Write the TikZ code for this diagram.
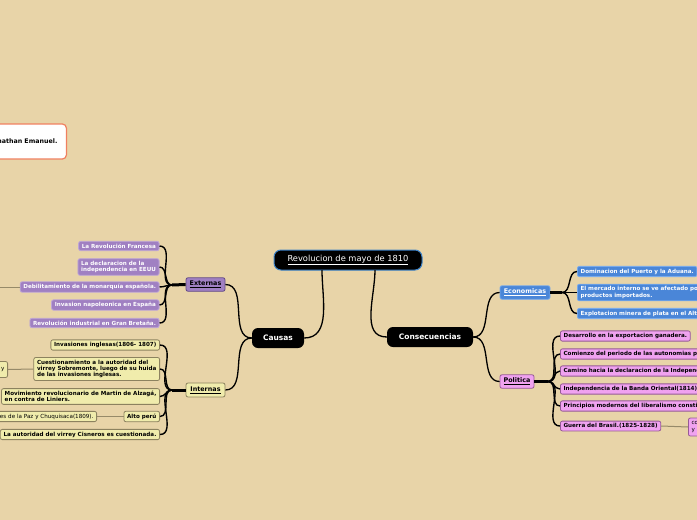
\documentclass[tikz,border=0pt]{standalone}
\usepackage{fontspec}
\setmainfont{DejaVu Sans}
\definecolor{bg}{RGB}{232,212,168}
\definecolor{purp}{RGB}{160,128,194}
\definecolor{purpB}{RGB}{190,165,215}
\definecolor{purpD}{RGB}{100,75,135}
\definecolor{yel}{RGB}{240,236,172}
\definecolor{yelB}{RGB}{140,130,95}
\definecolor{blu}{RGB}{74,134,216}
\definecolor{bluB}{RGB}{120,170,235}
\definecolor{pinkf}{RGB}{240,162,240}
\definecolor{pinkB}{RGB}{150,90,150}
\definecolor{rootB}{RGB}{60,130,200}
\definecolor{orng}{RGB}{240,128,96}
\definecolor{linkc}{RGB}{150,138,105}
\newcommand\lfnt{\fontsize{5.6}{6.4}\selectfont\bfseries}
\newcommand\lfntr{\fontsize{5.6}{6.4}\selectfont}
\newcommand\mfnt{\fontsize{6.4}{7.5}\selectfont\bfseries}
\newcommand\bfnt{\fontsize{7.5}{9}\selectfont\bfseries}
\begin{document}
\begin{tikzpicture}[x=1pt,y=-1pt,
  base/.style={rounded corners=2pt, inner xsep=3.2pt, inner ysep=2.4pt, font=\lfnt, line width=0.8pt, align=left},
  leafP/.style={base, fill=purp, draw=purpB, text=white},
  leafY/.style={base, fill=yel, draw=yelB, text=black},
  leafB/.style={base, fill=blu, draw=bluB, text=white},
  leafK/.style={base, fill=pinkf, draw=pinkB, text=black},
  midbox/.style={rounded corners=2pt, font=\mfnt, line width=0.8pt, minimum height=13.5pt, inner sep=1pt},
  bigbox/.style={fill=black, rounded corners=7pt, font=\bfnt, text=white, minimum height=20pt, inner sep=1pt},
  branch/.style={line width=1.3pt, black},
  fan/.style={line width=1.4pt, black},
  hub/.style={line width=3pt, black},
  link/.style={draw=linkc, line width=1pt}]
\useasboundingbox (0,0) rectangle (697,520);
\fill[bg] (0,0) rectangle (697,520);
\clip (0,0) rectangle (697,520);

% root and main nodes
\node[bigbox, draw=rootB, line width=1pt, minimum width=148pt, font=\fontsize{8.3}{10}\selectfont] (root) at (348,260) {\underline{Revolucion de mayo de 1810}};
\node[bigbox, minimum width=52pt, rounded corners=6pt] (causas) at (278,338) {Causas};
\node[bigbox, minimum width=86pt, rounded corners=6pt] (cons) at (430,337) {Consecuencias};

\node[midbox, fill=purp, draw=purpD, minimum width=39pt] (ext) at (205.5,284.5) {\underline{Externas}};
\node[midbox, fill=yel, draw=yelB, minimum width=39pt, minimum height=14pt] (int) at (205.5,390) {\underline{Internas}};
\node[midbox, fill=blu, draw=bluB, text=white, minimum width=50pt] (eco) at (525,292.5) {\underline{Economicas}};
\node[midbox, fill=pinkf, draw=pinkB, minimum width=34pt] (pol) at (517,381.5) {\underline{Politica}};

% Externas leaves
\node[leafP, anchor=east] (e1) at (159.5,246) {La Revolución Francesa};
\node[leafP, anchor=east] (e2) at (159.5,267) {La declaracion de la\\independencia en EEUU};
\node[leafP, anchor=east] (e3) at (159.5,287) {Debilitamiento de la monarquía española.};
\node[leafP, anchor=east] (e4) at (159.5,305) {Invasion napoleonica en España};
\node[leafP, anchor=east] (e5) at (159.5,323) {Revolución industrial en Gran Bretaña.};

% Internas leaves
\node[leafY, anchor=east] (i1) at (160,345) {Invasiones inglesas(1806- 1807)};
\node[leafY, anchor=east] (i2) at (160,369) {Cuestionamiento a la autoridad del\\virrey Sobremonte, luego de su huida\\de las invasiones inglesas.};
\node[leafY, anchor=east] (i3) at (160,396.5) {Movimiento revolucionario de Martin de Alzagá,\\en contra de Liniers.};
\node[leafY, anchor=east] (i4) at (160,416.5) {Alto perú};
\node[leafY, anchor=east] (i5) at (160,434.5) {La autoridad del virrey Cisneros es cuestionada.};

% Economicas leaves
\node[leafB, anchor=west] (c1) at (577,271.5) {Dominacion del Puerto y la Aduana.};
\node[leafB, anchor=west, text width=150pt] (c2) at (577,292.5) {El mercado interno se ve afectado por\\productos importados.};
\node[leafB, anchor=west, text width=150pt] (c3) at (577,313.5) {Explotacion minera de plata en el Alto};

% Politica leaves
\node[leafK, anchor=west] (p1) at (560,336) {Desarrollo en la exportacion ganadera.};
\node[leafK, anchor=west, text width=160pt] (p2) at (560,354) {Comienzo del periodo de las autonomias pr};
\node[leafK, anchor=west, text width=160pt] (p3) at (560,371) {Camino hacia la declaracion de la Independ};
\node[leafK, anchor=west, text width=160pt] (p4) at (560,389) {Independencia de la Banda Oriental(1814).};
\node[leafK, anchor=west, text width=160pt] (p5) at (560,406) {Principios modernos del liberalismo constit};
\node[leafK, anchor=west] (p6) at (560,426) {Guerra del Brasil.(1825-1828)};

% cut-off nodes at the edges
\node[base, fill=white, draw=orng, line width=1.2pt, rounded corners=4pt, anchor=east, text width=90pt, align=right, inner xsep=9pt, minimum height=35pt, font=\fontsize{6.3}{7.5}\selectfont\bfseries] (name) at (67,141.5) {nathan Emanuel.};
\node[leafY, anchor=east, font=\lfntr, text width=20pt, align=right, minimum height=16pt] (ly) at (8,369.5) {y};
\node[leafY, anchor=east, font=\lfntr, text width=110pt, align=right] (lp) at (97,416.5) {es de la Paz y Chuquisaca(1809).};
\node[leafK, anchor=west, font=\lfntr, text width=20pt, minimum height=18pt] (rco) at (688,427) {co\\y};
\coordinate (eoff) at (-5,287);

% hubs
\coordinate (hE) at (172,285);
\coordinate (hI) at (172,390);
\coordinate (hC) at (562,292.5);
\coordinate (hP) at (548,381.5);
\coordinate (r1) at (322,270);
\coordinate (r2) at (375,270);

% main branches
\draw[branch] (r1) to[out=-90,in=0] (causas.east);
\draw[branch] (r2) to[out=-90,in=180] (cons.west);
\draw[branch] (causas.west) to[out=180,in=0] (ext.east);
\draw[branch] (causas.west) to[out=180,in=0] (int.east);
\draw[branch] (cons.east) to[out=0,in=180] (eco.west);
\draw[branch] (cons.east) to[out=0,in=180] (pol.west);

% fans
\draw[hub] (ext.west) -- (hE);
\foreach \n in {e1,e2,e3,e4,e5} \draw[fan] (hE) to[out=180,in=0] (\n.east);
\draw[hub] (int.west) -- (hI);
\foreach \n in {i1,i2,i3,i4,i5} \draw[fan] (hI) to[out=180,in=0] (\n.east);
\draw[hub] (eco.east) -- (hC);
\foreach \n in {c1,c2,c3} \draw[fan] (hC) to[out=0,in=180] (\n.west);
\draw[hub] (pol.east) -- (hP);
\foreach \n in {p1,p2,p3,p4,p5,p6} \draw[fan] (hP) to[out=0,in=180] (\n.west);

% links
\draw[link] (e3.west) -- (eoff);
\draw[link] (i2.west) -- (ly.east);
\draw[link] (i4.west) -- (lp.east);
\draw[link] (p6.east) -- (rco.west);
\end{tikzpicture}
\end{document}
